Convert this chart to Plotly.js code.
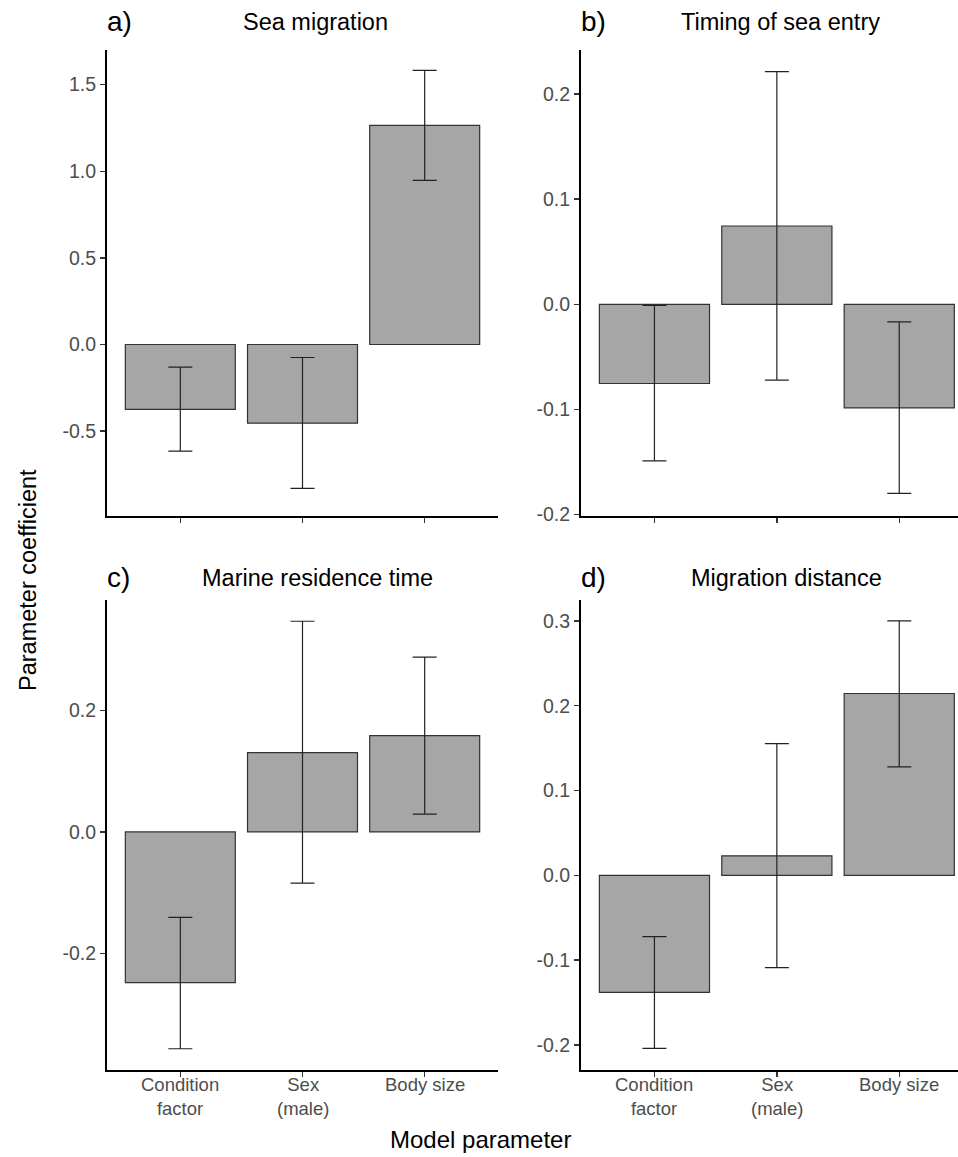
<!DOCTYPE html>
<html>
<head>
<meta charset="utf-8">
<script src="https://cdn.plot.ly/plotly-3.0.1.min.js"></script>
<style>html,body{margin:0;padding:0;background:#fff;}#chart{width:958px;height:1157px;}</style>
</head>
<body>
<div id="chart"></div>
<script>
// ---- data ----
const categories = ["Condition factor", "Sex (male)", "Body size"];
const categoryLabels = ["Condition<br>factor", "Sex<br>(male)", "Body size"];
const panelLetters = ["a)", "b)", "c)", "d)"];
const panelTitles = ["Sea migration", "Timing of sea entry", "Marine residence time", "Migration distance"];

// a) Sea migration
const seaMigEst   = [-0.374, -0.454, 1.265];
const seaMigLow   = [-0.615, -0.831, 0.947];
const seaMigHigh  = [-0.131, -0.075, 1.582];
// b) Timing of sea entry
const timingEst   = [-0.0754, 0.0745, -0.0986];
const timingLow   = [-0.149, -0.0722, -0.180];
const timingHigh  = [-0.001, 0.2215, -0.0167];
// c) Marine residence time
const residEst    = [-0.248, 0.1307, 0.1588];
const residLow    = [-0.357, -0.0843, 0.0294];
const residHigh   = [-0.1405, 0.347, 0.288];
// d) Migration distance
const distEst     = [-0.1379, 0.023, 0.2144];
const distLow     = [-0.204, -0.1088, 0.128];
const distHigh    = [-0.0722, 0.1553, 0.300];

const yTickVals = [
  [-0.5, 0.0, 0.5, 1.0, 1.5],
  [-0.2, -0.1, 0.0, 0.1, 0.2],
  [-0.2, 0.0, 0.2],
  [-0.2, -0.1, 0.0, 0.1, 0.2, 0.3]
];
const yTickText = [
  ["-0.5", "0.0", "0.5", "1.0", "1.5"],
  ["-0.2", "-0.1", "0.0", "0.1", "0.2"],
  ["-0.2", "0.0", "0.2"],
  ["-0.2", "-0.1", "0.0", "0.1", "0.2", "0.3"]
];
const yRanges = [[-0.99, 1.70], [-0.2015, 0.242], [-0.392, 0.382], [-0.2294, 0.3246]];

const est  = [seaMigEst, timingEst, residEst, distEst];
const low  = [seaMigLow, timingLow, residLow, distLow];
const high = [seaMigHigh, timingHigh, residHigh, distHigh];

// ---- layout geometry (pixels) ----
const W = 958, H = 1157;
const px = v => v / W;
const py = v => 1 - v / H;
const FONT = "Liberation Sans, Arial, Helvetica, sans-serif";
const xDom = [[107, 498], [581, 958], [107, 498], [581, 958]];
const yDom = [[50, 516], [50, 516], [600, 1070], [600, 1070]];
const xRanges = [[-0.6, 2.6], [-0.6, 2.48], [-0.6, 2.6], [-0.6, 2.48]];

const traces = [];
const layout = {
  width: W, height: H,
  margin: {l: 0, r: 0, t: 0, b: 0},
  paper_bgcolor: "#ffffff", plot_bgcolor: "#ffffff",
  showlegend: false,
  font: {family: FONT, color: "#4d4d4d"},
  annotations: []
};

for (let i = 0; i < 4; i++) {
  const n = i + 1;
  const xa = "x" + (n === 1 ? "" : n), ya = "y" + (n === 1 ? "" : n);
  const minus = est[i].map((v, k) => v - low[i][k]);
  const plus = est[i].map((v, k) => high[i][k] - v);
  traces.push({
    type: "bar",
    x: categories,
    y: est[i],
    xaxis: xa, yaxis: ya,
    width: 0.9,
    marker: {color: "#a6a6a6", line: {color: "#333333", width: 1.2}},
    error_y: {type: "data", symmetric: false, array: plus, arrayminus: minus,
              color: "#222222", thickness: 1.2, width: 12},
    hoverinfo: "x+y"
  });
  const xKey = "xaxis" + (n === 1 ? "" : n), yKey = "yaxis" + (n === 1 ? "" : n);
  layout[xKey] = {
    domain: [px(xDom[i][0]), px(xDom[i][1])],
    anchor: ya,
    type: "category",
    range: xRanges[i],
    showgrid: false, zeroline: false,
    showline: true, linecolor: "#000000", linewidth: 2,
    ticks: "outside", ticklen: 5, tickwidth: 1.5, tickcolor: "#333333",
    showticklabels: false,
    fixedrange: true
  };
  layout[yKey] = {
    domain: [py(yDom[i][1]), py(yDom[i][0])],
    anchor: xa,
    range: yRanges[i],
    tickvals: yTickVals[i], ticktext: yTickText[i],
    showgrid: false, zeroline: false,
    showline: true, linecolor: "#000000", linewidth: 2,
    ticks: "outside", ticklen: 5, tickwidth: 1.5, tickcolor: "#333333",
    tickfont: {size: 19.5, color: "#4d4d4d", family: FONT},
    fixedrange: true
  };
  // category labels under the bottom panels
  if (i >= 2) {
    categories.forEach((c, k) => {
      layout.annotations.push({
        xref: xa, yref: "paper", x: c, y: py(1073),
        xanchor: "center", yanchor: "top", showarrow: false, borderpad: 0,
        text: categoryLabels[k], font: {size: 18.5, color: "#4d4d4d", family: FONT}
      });
    });
  }
}

// panel letters and titles
const letterPos = [[105, 21], [579, 21], [105, 577], [579, 577]];
const titlePos = [[315.5, 22], [780, 22], [317.5, 578], [786, 578]];
for (let i = 0; i < 4; i++) {
  layout.annotations.push({
    xref: "paper", yref: "paper", x: px(letterPos[i][0]), y: py(letterPos[i][1]),
    xanchor: "left", yanchor: "middle", showarrow: false,
    text: panelLetters[i], font: {size: 28, color: "#000000", family: FONT}
  });
  layout.annotations.push({
    xref: "paper", yref: "paper", x: px(titlePos[i][0]), y: py(titlePos[i][1]),
    xanchor: "center", yanchor: "middle", showarrow: false,
    text: panelTitles[i], font: {size: 23.5, color: "#000000", family: FONT}
  });
}
// shared axis titles
layout.annotations.push({
  xref: "paper", yref: "paper", x: px(28), y: py(580),
  xanchor: "center", yanchor: "middle", showarrow: false, textangle: -90,
  text: "Parameter coefficient", font: {size: 23.5, color: "#000000", family: FONT}
});
layout.annotations.push({
  xref: "paper", yref: "paper", x: px(480), y: py(1139),
  xanchor: "center", yanchor: "middle", showarrow: false,
  text: "Model parameter", font: {size: 24, color: "#000000", family: FONT}
});

Plotly.newPlot("chart", traces, layout, {displayModeBar: false, staticPlot: true});
</script>
</body>
</html>
